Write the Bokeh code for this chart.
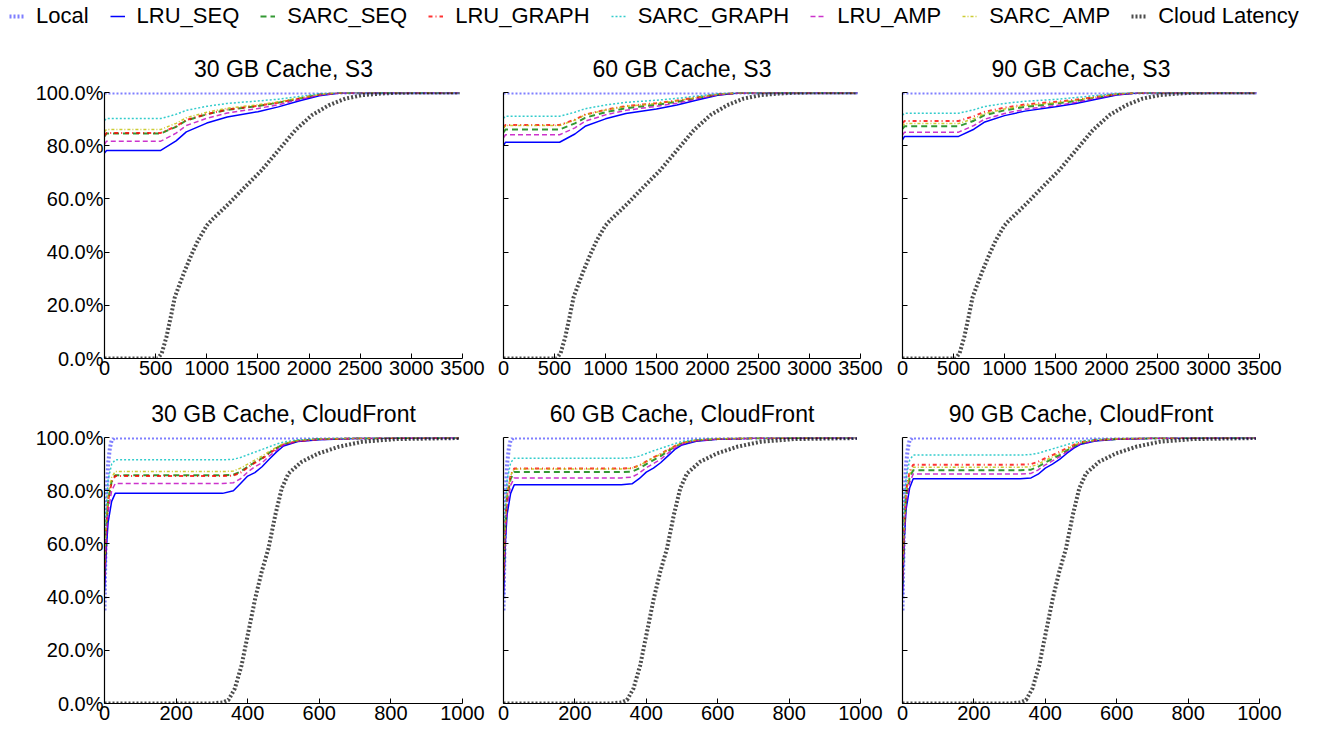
from bokeh.plotting import figure
from bokeh.models import Range1d, FixedTicker, NumeralTickFormatter, Legend, LegendItem
from bokeh.layouts import column, row
from bokeh.embed import file_html
from bokeh.resources import INLINE

# ---------------- data ----------------
series_names = ["Local", "LRU_SEQ", "SARC_SEQ", "LRU_GRAPH", "SARC_GRAPH", "LRU_AMP", "SARC_AMP", "Cloud Latency"]
panel_titles = ["30 GB Cache, S3", "60 GB Cache, S3", "90 GB Cache, S3",
                "30 GB Cache, CloudFront", "60 GB Cache, CloudFront", "90 GB Cache, CloudFront"]
x_ticks_s3 = [0, 500, 1000, 1500, 2000, 2500, 3000, 3500]
x_ticks_cf = [0, 200, 400, 600, 800, 1000]
y_ticks = [0.0, 0.2, 0.4, 0.6, 0.8, 1.0]

# Local and cloud latency CDFs
local_s3_x = [0, 3470]
local_s3_y = [1.0, 1.0]
local_cf_x = [0, 3, 6, 10, 15, 20, 28, 990]
local_cf_y = [0.35, 0.60, 0.78, 0.90, 0.96, 0.99, 1.0, 1.0]
cloud_s3_x = [0, 520, 560, 605, 650, 687, 735, 785, 850, 916, 1000, 1047, 1210, 1374, 1537,
              1701, 1865, 2028, 2192, 2355, 2519, 2700, 2846, 3100, 3470]
cloud_s3_y = [0.0, 0.0, 0.02, 0.08, 0.16, 0.23, 0.28, 0.33, 0.39, 0.445, 0.50, 0.52, 0.58, 0.645, 0.708,
              0.783, 0.858, 0.915, 0.952, 0.977, 0.99, 0.996, 0.999, 1.0, 1.0]
cloud_cf_x = [0, 300, 330, 346, 364, 383, 402, 421, 439, 458, 477, 495, 514, 551, 598, 654, 720, 813, 990]
cloud_cf_y = [0.0, 0.0, 0.004, 0.013, 0.056, 0.144, 0.27, 0.395, 0.495, 0.583, 0.708, 0.808, 0.865,
              0.909, 0.94, 0.965, 0.984, 0.994, 0.998]

# cache hit CDFs, S3
s3_x = [0, 20, 550, 700, 800, 1000, 1200, 1500, 1700, 1900, 2100, 2300, 2500, 3470]
s3_30_lru_seq = [0.772, 0.782, 0.782, 0.818, 0.852, 0.885, 0.908, 0.928, 0.946, 0.968, 0.988, 0.998, 1.0, 1.0]
s3_30_sarc_seq = [0.835, 0.846, 0.846, 0.871, 0.895, 0.918, 0.935, 0.949, 0.962, 0.977, 0.992, 0.999, 1.0, 1.0]
s3_30_lru_graph = [0.838, 0.848, 0.848, 0.873, 0.897, 0.919, 0.936, 0.950, 0.962, 0.977, 0.992, 0.999, 1.0, 1.0]
s3_30_sarc_graph = [0.895, 0.902, 0.902, 0.918, 0.933, 0.948, 0.959, 0.968, 0.975, 0.985, 0.995, 0.999, 1.0, 1.0]
s3_30_lru_amp = [0.805, 0.817, 0.817, 0.847, 0.876, 0.903, 0.923, 0.940, 0.954, 0.973, 0.990, 0.998, 1.0, 1.0]
s3_30_sarc_amp = [0.852, 0.861, 0.861, 0.884, 0.905, 0.926, 0.941, 0.954, 0.965, 0.979, 0.992, 0.999, 1.0, 1.0]

s3_60_lru_seq = [0.800, 0.813, 0.813, 0.844, 0.873, 0.901, 0.921, 0.938, 0.953, 0.972, 0.990, 0.998, 1.0, 1.0]
s3_60_sarc_seq = [0.850, 0.861, 0.861, 0.884, 0.905, 0.926, 0.941, 0.954, 0.965, 0.979, 0.992, 0.999, 1.0, 1.0]
s3_60_lru_graph = [0.868, 0.878, 0.878, 0.898, 0.917, 0.935, 0.949, 0.960, 0.970, 0.982, 0.993, 0.999, 1.0, 1.0]
s3_60_sarc_graph = [0.903, 0.911, 0.911, 0.926, 0.939, 0.953, 0.963, 0.971, 0.978, 0.987, 0.995, 0.999, 1.0, 1.0]
s3_60_lru_amp = [0.830, 0.841, 0.841, 0.867, 0.892, 0.916, 0.933, 0.948, 0.960, 0.976, 0.991, 0.998, 1.0, 1.0]
s3_60_sarc_amp = [0.866, 0.876, 0.876, 0.896, 0.916, 0.934, 0.948, 0.959, 0.969, 0.981, 0.993, 0.999, 1.0, 1.0]

s3_90_lru_seq = [0.822, 0.835, 0.835, 0.862, 0.888, 0.913, 0.930, 0.946, 0.959, 0.975, 0.991, 0.998, 1.0, 1.0]
s3_90_sarc_seq = [0.863, 0.873, 0.873, 0.894, 0.914, 0.933, 0.946, 0.958, 0.968, 0.981, 0.993, 0.999, 1.0, 1.0]
s3_90_lru_graph = [0.885, 0.893, 0.893, 0.911, 0.927, 0.943, 0.955, 0.965, 0.973, 0.984, 0.994, 0.999, 1.0, 1.0]
s3_90_sarc_graph = [0.915, 0.922, 0.922, 0.935, 0.947, 0.959, 0.967, 0.974, 0.981, 0.989, 0.996, 1.0, 1.0, 1.0]
s3_90_lru_amp = [0.840, 0.851, 0.851, 0.876, 0.899, 0.921, 0.937, 0.951, 0.963, 0.978, 0.992, 0.999, 1.0, 1.0]
s3_90_sarc_amp = [0.874, 0.883, 0.883, 0.902, 0.920, 0.938, 0.951, 0.961, 0.971, 0.983, 0.994, 0.999, 1.0, 1.0]

# cache hit CDFs, CloudFront
cf_x = [0, 5, 10, 20, 30, 330, 360, 380, 400, 420, 440, 460, 480, 500, 540, 600, 700, 990]
cf_30_lru_seq = [0.42, 0.58, 0.68, 0.76, 0.79, 0.79, 0.80, 0.827, 0.855, 0.868, 0.89, 0.918, 0.945, 0.968, 0.985, 0.992, 0.996, 1.0]
cf_30_sarc_seq = [0.48, 0.66, 0.76, 0.835, 0.858, 0.858, 0.86, 0.872, 0.89, 0.907, 0.922, 0.942, 0.96, 0.975, 0.988, 0.994, 0.997, 1.0]
cf_30_lru_graph = [0.48, 0.66, 0.76, 0.833, 0.855, 0.855, 0.857, 0.868, 0.887, 0.905, 0.92, 0.94, 0.958, 0.974, 0.987, 0.993, 0.997, 1.0]
cf_30_sarc_graph = [0.55, 0.74, 0.84, 0.90, 0.916, 0.916, 0.918, 0.925, 0.935, 0.945, 0.955, 0.965, 0.975, 0.983, 0.991, 0.995, 0.998, 1.0]
cf_30_lru_amp = [0.45, 0.62, 0.72, 0.80, 0.827, 0.827, 0.83, 0.845, 0.87, 0.89, 0.905, 0.93, 0.952, 0.972, 0.986, 0.993, 0.997, 1.0]
cf_30_sarc_amp = [0.50, 0.68, 0.78, 0.85, 0.872, 0.872, 0.874, 0.885, 0.90, 0.915, 0.93, 0.948, 0.963, 0.977, 0.989, 0.994, 0.997, 1.0]

cf_60_lru_seq = [0.40, 0.60, 0.71, 0.79, 0.822, 0.822, 0.826, 0.845, 0.87, 0.885, 0.905, 0.93, 0.955, 0.972, 0.986, 0.993, 0.997, 1.0]
cf_60_sarc_seq = [0.46, 0.66, 0.77, 0.845, 0.870, 0.870, 0.872, 0.884, 0.90, 0.915, 0.93, 0.948, 0.965, 0.978, 0.989, 0.994, 0.997, 1.0]
cf_60_lru_graph = [0.47, 0.67, 0.78, 0.86, 0.883, 0.883, 0.885, 0.895, 0.91, 0.925, 0.938, 0.954, 0.968, 0.98, 0.99, 0.995, 0.998, 1.0]
cf_60_sarc_graph = [0.52, 0.73, 0.84, 0.905, 0.922, 0.922, 0.924, 0.93, 0.94, 0.95, 0.959, 0.968, 0.977, 0.985, 0.992, 0.996, 0.998, 1.0]
cf_60_lru_amp = [0.43, 0.63, 0.74, 0.82, 0.848, 0.848, 0.851, 0.866, 0.886, 0.902, 0.918, 0.94, 0.96, 0.975, 0.988, 0.994, 0.997, 1.0]
cf_60_sarc_amp = [0.47, 0.67, 0.78, 0.858, 0.882, 0.882, 0.884, 0.894, 0.909, 0.924, 0.937, 0.953, 0.967, 0.979, 0.99, 0.995, 0.998, 1.0]

cf_90_lru_seq = [0.40, 0.62, 0.73, 0.81, 0.845, 0.845, 0.848, 0.862, 0.885, 0.90, 0.918, 0.94, 0.96, 0.975, 0.987, 0.993, 0.997, 1.0]
cf_90_sarc_seq = [0.45, 0.66, 0.77, 0.85, 0.877, 0.877, 0.879, 0.89, 0.906, 0.92, 0.934, 0.951, 0.967, 0.979, 0.989, 0.994, 0.997, 1.0]
cf_90_lru_graph = [0.48, 0.69, 0.80, 0.872, 0.898, 0.898, 0.90, 0.909, 0.922, 0.934, 0.946, 0.96, 0.972, 0.983, 0.991, 0.995, 0.998, 1.0]
cf_90_sarc_graph = [0.52, 0.74, 0.85, 0.915, 0.934, 0.934, 0.936, 0.941, 0.949, 0.957, 0.965, 0.973, 0.981, 0.987, 0.993, 0.996, 0.998, 1.0]
cf_90_lru_amp = [0.43, 0.64, 0.75, 0.83, 0.863, 0.863, 0.865, 0.878, 0.897, 0.912, 0.927, 0.946, 0.964, 0.977, 0.988, 0.994, 0.997, 1.0]
cf_90_sarc_amp = [0.47, 0.68, 0.79, 0.862, 0.888, 0.888, 0.89, 0.90, 0.914, 0.927, 0.94, 0.956, 0.97, 0.981, 0.99, 0.995, 0.998, 1.0]

# ---------------- styles ----------------
FONT = "Liberation Sans"
styles = {
    "Local": dict(line_color="#0000ff", line_dash="2 2", line_width=4, line_alpha=0.5),
    "LRU_SEQ": dict(line_color="#0000ff", line_dash="solid", line_width=1.5, line_alpha=1.0),
    "SARC_SEQ": dict(line_color="#008000", line_dash="6 4", line_width=2, line_alpha=0.8),
    "LRU_GRAPH": dict(line_color="#ff0000", line_dash="4 3 1 3", line_width=2, line_alpha=0.8),
    "SARC_GRAPH": dict(line_color="#00bfbf", line_dash="2 2", line_width=1.5, line_alpha=0.8),
    "LRU_AMP": dict(line_color="#bf00bf", line_dash="5 3", line_width=1.5, line_alpha=0.8),
    "SARC_AMP": dict(line_color="#bfbf00", line_dash="3 2 1 2", line_width=1.5, line_alpha=0.8),
    "Cloud Latency": dict(line_color="#000000", line_dash="2 2", line_width=4, line_alpha=0.7),
}

panels = [
    (s3_x, [s3_30_lru_seq, s3_30_sarc_seq, s3_30_lru_graph, s3_30_sarc_graph, s3_30_lru_amp, s3_30_sarc_amp]),
    (s3_x, [s3_60_lru_seq, s3_60_sarc_seq, s3_60_lru_graph, s3_60_sarc_graph, s3_60_lru_amp, s3_60_sarc_amp]),
    (s3_x, [s3_90_lru_seq, s3_90_sarc_seq, s3_90_lru_graph, s3_90_sarc_graph, s3_90_lru_amp, s3_90_sarc_amp]),
    (cf_x, [cf_30_lru_seq, cf_30_sarc_seq, cf_30_lru_graph, cf_30_sarc_graph, cf_30_lru_amp, cf_30_sarc_amp]),
    (cf_x, [cf_60_lru_seq, cf_60_sarc_seq, cf_60_lru_graph, cf_60_sarc_graph, cf_60_lru_amp, cf_60_sarc_amp]),
    (cf_x, [cf_90_lru_seq, cf_90_sarc_seq, cf_90_lru_graph, cf_90_sarc_graph, cf_90_lru_amp, cf_90_sarc_amp]),
]

col_widths = [486, 398, 444]
col_left = [104, 17, 18]
col_right = [24, 24, 69]
row_heights = [346, 343]
row_top = [52, 51]
row_bottom = [28, 26]


def make_panel(i):
    r, c = divmod(i, 3)
    s3 = r == 0
    xmax = 3500 if s3 else 1000
    p = figure(width=col_widths[c], height=row_heights[r], title=panel_titles[i],
               x_range=Range1d(0, xmax), y_range=Range1d(0, 1.0),
               output_backend="svg", toolbar_location=None,
               min_border_left=col_left[c], min_border_right=col_right[c],
               min_border_top=row_top[r], min_border_bottom=row_bottom[r])
    p.title.align = "center"
    p.title.text_font = FONT
    p.title.text_font_size = "23px"
    p.title.text_font_style = "normal"
    p.title.text_color = "#000000"
    p.title.standoff = 21
    p.outline_line_color = None
    p.grid.visible = False
    p.background_fill_color = "white"
    p.border_fill_color = "white"

    xs, caches = panels[i]
    lx, ly = (local_s3_x, local_s3_y) if s3 else (local_cf_x, local_cf_y)
    p.line(lx, ly, **styles["Local"])
    for name, ys in zip(series_names[1:7], caches):
        p.line(xs, ys, **styles[name])
    cx, cy = (cloud_s3_x, cloud_s3_y) if s3 else (cloud_cf_x, cloud_cf_y)
    p.line(cx, cy, **styles["Cloud Latency"])

    for ax in (p.xaxis[0], p.yaxis[0]):
        ax.axis_line_color = "black"
        ax.axis_line_width = 1.2
        ax.major_tick_in = 5
        ax.major_tick_out = 0
        ax.minor_tick_in = 0
        ax.minor_tick_out = 0
        ax.major_tick_line_color = "black"
        ax.major_label_text_font = FONT
        ax.major_label_text_font_size = "20px"
        ax.major_label_text_color = "black"
    p.xaxis[0].ticker = FixedTicker(ticks=x_ticks_s3 if s3 else x_ticks_cf)
    p.xaxis[0].major_label_standoff = 2
    p.yaxis[0].ticker = FixedTicker(ticks=y_ticks)
    p.yaxis[0].formatter = NumeralTickFormatter(format="0.0%")
    p.yaxis[0].major_label_standoff = 1
    if c != 0:
        p.yaxis[0].major_label_overrides = {t: "" for t in y_ticks}
    return p


figs = [make_panel(i) for i in range(6)]

# legend strip (proxy lines sit outside the visible range; only their legend glyphs show)
lg = figure(width=1328, height=40, x_range=Range1d(0, 1), y_range=Range1d(0, 1),
            output_backend="svg", toolbar_location=None,
            min_border_left=0, min_border_right=0, min_border_top=0, min_border_bottom=0)
lg.axis.visible = False
lg.grid.visible = False
lg.outline_line_color = None
items = []
for name in series_names:
    rr = lg.line([5, 6], [5, 5], **styles[name])
    items.append(LegendItem(label=name, renderers=[rr]))
legend = Legend(items=items, orientation="horizontal", location=(9, 11),
                glyph_width=15, label_standoff=12, spacing=21, padding=0, margin=0,
                label_text_font=FONT, label_text_font_size="22px", label_text_color="black",
                border_line_alpha=0, background_fill_alpha=0)
lg.add_layout(legend)

layout = column(lg, row(*figs[:3]), row(*figs[3:]))
open("out.html", "w").write(file_html(layout, INLINE))
